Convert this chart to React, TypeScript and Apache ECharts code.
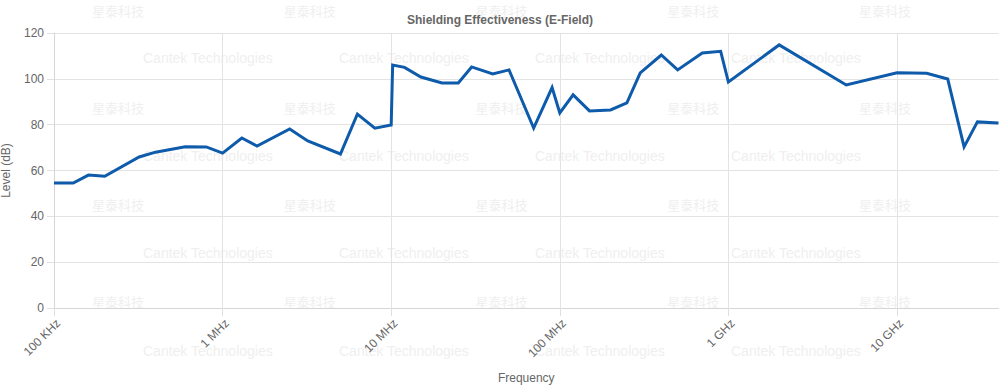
import React, { useEffect, useRef } from "react";
import * as echarts from "echarts";

const freqMHz = [
  0.1, 0.13, 0.16, 0.2, 0.32, 0.4, 0.6, 0.8, 1, 1.3, 1.6, 2.5, 3.2, 5, 6.3, 8,
  10, 10.2, 12, 15, 20, 25, 30, 40, 50, 70, 90, 100, 120, 150, 200, 250, 300,
  400, 500, 700, 900, 1000, 2000, 5000, 10000, 15000, 20000, 25000, 30000, 40000,
];
const levelDb = [
  54.5, 54.5, 58, 57.5, 65.9, 68, 70.4, 70.3, 67.6, 74.2, 70.7, 78.1, 72.9, 67.2,
  84.6, 78.5, 79.9, 106, 105, 100.8, 98.2, 98.2, 105.2, 102.1, 103.9, 78.5, 96.2,
  85.1, 93, 86, 86.4, 89.5, 102.6, 110.4, 103.9, 111.3, 112, 98.6, 114.8, 97.3,
  102.6, 102.4, 99.9, 70.3, 81.2, 80.7,
];
const xTickLabels = ["100 KHz", "1 MHz", "10 MHz", "100 MHz", "1 GHz", "10 GHz"];
const xTickExponents = [5, 6, 7, 8, 9, 10];

const titleText = "Shielding Effectiveness (E-Field)";
const xName = "Frequency";
const yName = "Level (dB)";
const wmCn = "星泰科技";
const wmEn = "Cantek Technologies";

const FONT = "'Liberation Sans', Arial, Helvetica, sans-serif";

export default function App() {
  const ref = useRef<HTMLDivElement>(null);
  useEffect(() => {
    if (!ref.current) return;
    const chart = echarts.init(ref.current, undefined, { renderer: "svg" });

    const graphics: any[] = [];
    for (let r = 0; r < 4; r++) {
      for (let c = 0; c < 5; c++) {
        graphics.push({
          type: "text",
          x: 92 + c * 191.75,
          y: 10 + r * 97,
          z: -10,
          style: {
            text: wmCn,
            fill: "#efefef",
            font: `13px 'Noto Sans CJK SC', sans-serif`,
            textVerticalAlign: "middle",
          },
          silent: true,
        });
      }
      for (let c = 0; c < 4; c++) {
        graphics.push({
          type: "text",
          x: 143 + c * 196,
          y: 58 + r * 97.5,
          z: -10,
          style: {
            text: wmEn,
            fill: "#efefef",
            font: `14px ${FONT}`,
            textVerticalAlign: "middle",
          },
          silent: true,
        });
      }
    }

    const data = freqMHz.map((f, i) => [f * 1e6, levelDb[i]]);

    chart.setOption({
      animation: false,
      backgroundColor: "#ffffff",
      title: {
        text: titleText,
        left: "center",
        top: 9,
        textStyle: { fontFamily: FONT, fontSize: 12, fontWeight: "bold", color: "#666" },
      },
      graphic: graphics,
      grid: {
        left: 54,
        right: 1.5,
        top: 33,
        bottom: 81,
        containLabel: false,
        outerBoundsMode: "none",
      },
      xAxis: {
        type: "log",
        logBase: 10,
        min: 1e5,
        max: 4e10,
        name: xName,
        nameLocation: "middle",
        nameGap: 64,
        nameTextStyle: { fontFamily: FONT, fontSize: 12, color: "#666" },
        axisLine: { show: true, lineStyle: { color: "#d6d6d6", width: 1 } },
        axisTick: { show: true, length: 8, lineStyle: { color: "#e0e0e0" } },
        splitLine: { show: true, showMinLine: false, showMaxLine: false, lineStyle: { color: "#e3e3e3" } },
        axisLabel: {
          rotate: 45,
          margin: 9,
          verticalAlign: "top",
          fontFamily: FONT,
          fontSize: 12,
          color: "#666",
          showMaxLabel: false,
          formatter: (v: number) => {
            const e = Math.log10(v);
            const idx = xTickExponents.findIndex((x) => Math.abs(x - e) < 1e-6);
            return idx >= 0 ? xTickLabels[idx] : "";
          },
        },
      },
      yAxis: {
        type: "value",
        min: 0,
        max: 120,
        interval: 20,
        name: yName,
        nameLocation: "middle",
        nameGap: 42,
        nameRotate: 90,
        nameTextStyle: { fontFamily: FONT, fontSize: 12, color: "#666" },
        axisLine: { show: true, lineStyle: { color: "#d6d6d6", width: 1 } },
        axisTick: { show: true, length: 7, lineStyle: { color: "#e0e0e0" } },
        splitLine: { show: true, lineStyle: { color: "#e3e3e3" } },
        axisLabel: { margin: 10, fontFamily: FONT, fontSize: 12, color: "#666" },
      },
      series: [
        {
          type: "line",
          data,
          showSymbol: false,
          symbol: "none",
          z: 5,
          lineStyle: { color: "#0f5bab", width: 3, join: "miter" },
          itemStyle: { color: "#0f5bab" },
        },
      ],
    });
    return () => chart.dispose();
  }, []);

  return (
    <div
      ref={ref}
      style={{ position: "fixed", left: 0, top: 0, width: 1000, height: 389, background: "#fff" }}
    />
  );
}
